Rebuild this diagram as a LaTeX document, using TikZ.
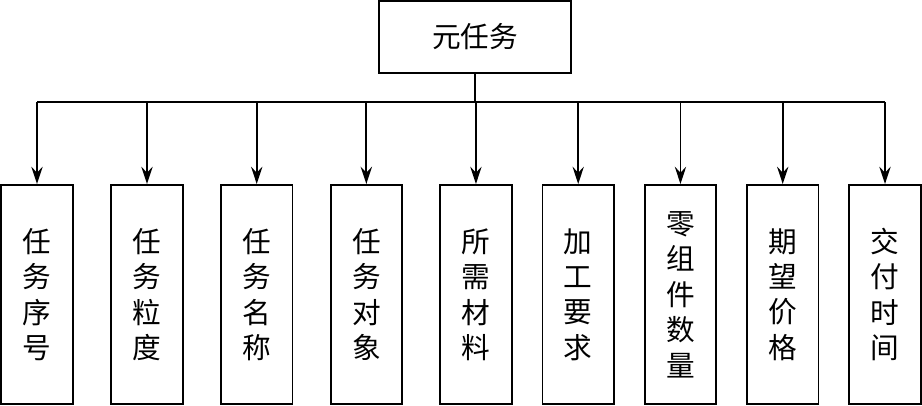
\documentclass[tikz,border=0pt]{standalone}
\usepackage{fontspec}
\newfontfamily\cjk{Noto Sans CJK SC}
\usepackage{tikz}
\usetikzlibrary{arrows.meta,positioning,calc}

\begin{document}
\begin{tikzpicture}[
        rootbox/.style={draw,line width=1.4pt,minimum width=144.1pt,minimum height=54.1pt,
                        inner sep=0pt,font=\cjk\fontsize{21.5}{26.6}\selectfont},
        fieldbox/.style={draw,line width=1.4pt,minimum width=53.6pt,minimum height=164.35pt,
                         inner sep=0pt,align=center,font=\cjk\fontsize{21.5}{26.6}\selectfont},
        arr/.style={-{Stealth[length=13pt,width=8.5pt,inset=4.5pt]}, line width=1.4pt}
    ]
      \useasboundingbox (0,0) rectangle (691.5pt,-304.5pt);
      \node[rootbox] (root) at (356.25pt,-27.75pt) {元任务};
      % field boxes
      \node[fieldbox] (f1) at (27.75pt,-220.9pt) {任\\务\\序\\号};
      \node[fieldbox, right=27.5pt of f1] (f2) {任\\务\\粒\\度};
      \node[fieldbox, right=27.3pt of f2] (f3) {任\\务\\名\\称};
      \node[fieldbox, right=27.2pt of f3] (f4) {任\\务\\对\\象};
      \node[fieldbox, right=27.2pt of f4] (f5) {所\\需\\材\\料};
      \node[fieldbox, right=21.7pt of f5] (f6) {加\\工\\要\\求};
      \node[fieldbox, right=21.7pt of f6] (f7) {零\\组\\件\\数\\量};
      \node[fieldbox, right=21.7pt of f7] (f8) {期\\望\\价\\格};
      \node[fieldbox, right=21.7pt of f8] (f9) {交\\付\\时\\间};
      % bus line
      \coordinate (bus) at ($(root.south)+(0,-21pt)$);
      \draw[line width=1.4pt] (root.south) -- (bus);
      \draw[line width=1.4pt] (f1 |- bus) -- (f9 |- bus);
      \draw[arr] (f1 |- bus) -- (f1.north);
      \draw[arr] (f2 |- bus) -- (f2.north);
      \draw[arr] (f3 |- bus) -- (f3.north);
      \draw[arr] (f4 |- bus) -- (f4.north);
      \draw[arr] (f5 |- bus) -- (f5.north);
      \draw[arr] (f6 |- bus) -- (f6.north);
      \draw[arr] (f7 |- bus) -- (f7.north);
      \draw[arr] (f8 |- bus) -- (f8.north);
      \draw[arr] (f9 |- bus) -- (f9.north);
    \end{tikzpicture}
\end{document}
